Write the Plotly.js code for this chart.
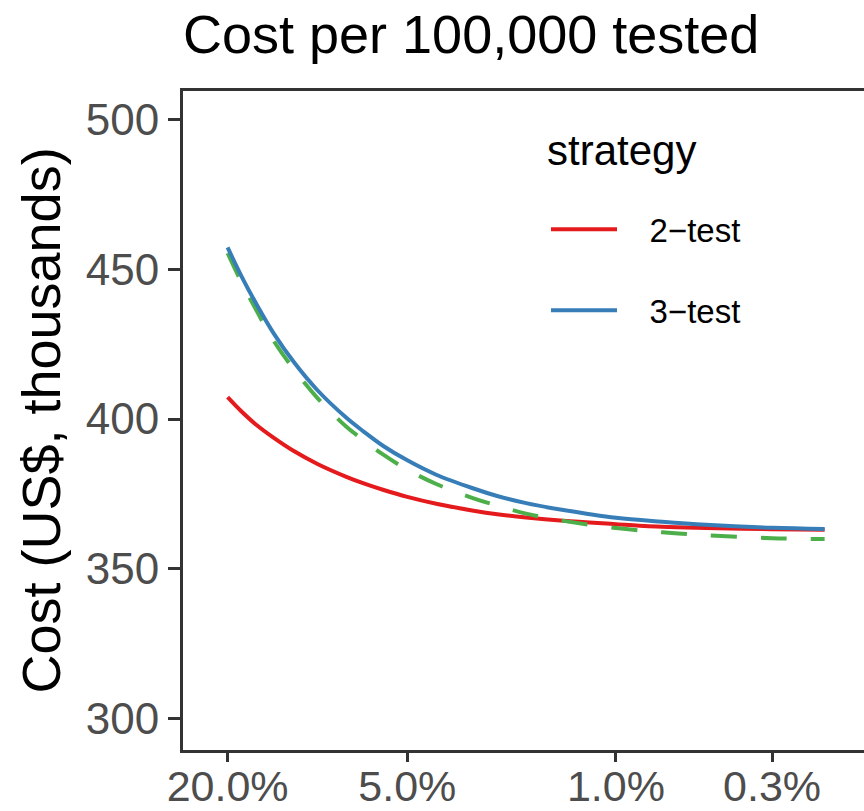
<!DOCTYPE html>
<html>
<head>
<meta charset="utf-8">
<script src="https://cdn.plot.ly/plotly-3.0.1.min.js"></script>
<style>
  html, body { margin: 0; padding: 0; overflow: hidden; background: #ffffff; }
  #chart { width: 880px; height: 811px; }
</style>
</head>
<body>
<div id="chart"></div>
<script>
// Prevalence of infection among those tested (fraction), high to low
const prevalence = [0.20, 0.18, 0.16, 0.14, 0.12, 0.10, 0.08, 0.07, 0.06, 0.05,
                    0.04, 0.03, 0.025, 0.02, 0.015, 0.01, 0.007, 0.005, 0.003, 0.002];

// Cost per 100,000 tested, US$ thousands
const cost2Test = [407.3, 402.6, 398.0, 393.7, 389.3, 385.0, 380.7, 378.5, 376.3, 374.0,
                   371.7, 369.4, 368.2, 367.1, 366.0, 364.9, 364.0, 363.6, 363.2, 363.0];
const cost3Test = [457.3, 447.8, 438.3, 428.5, 419.0, 409.6, 400.4, 395.8, 390.9, 386.2,
                   381.4, 376.8, 374.3, 371.9, 369.6, 367.0, 365.7, 364.7, 363.7, 363.3];
const cost3TestAlt = [455.4, 445.8, 436.2, 426.0, 416.6, 407.0, 397.4, 392.9, 388.0, 383.1,
                      378.3, 373.5, 371.1, 368.4, 366.0, 363.6, 362.2, 361.2, 360.2, 359.9];

const seriesNames = ['2\u2212test', '3\u2212test'];
const legendTitle = 'strategy';
const xTickVals = [0.20, 0.05, 0.01, 0.003];
const xTickText = ['20.0%', '5.0%', '1.0%', '0.3%'];
const yTickVals = [300, 350, 400, 450, 500];

const FONT = 'Liberation Sans, Arial, sans-serif';
const PAD = '\u00a0\u00a0\u00a0';

// plot panel geometry (px)
const PANEL_L = 183, PANEL_T = 90.5, PANEL_W = 687, PANEL_H = 660;
const px2paperX = px => (px - PANEL_L) / PANEL_W;
const px2paperY = py => (PANEL_T + PANEL_H - py) / PANEL_H;

const smooth = { shape: 'spline', smoothing: 1 };

const traces = [
  {
    x: prevalence, y: cost2Test, type: 'scatter', mode: 'lines',
    name: PAD + seriesNames[0], legendgroup: 'a',
    line: Object.assign({ color: '#E41A1C', width: 4 }, smooth)
  },
  {
    x: prevalence, y: cost3TestAlt, type: 'scatter', mode: 'lines',
    name: '3\u2212test alt', showlegend: false,
    line: Object.assign({ color: '#4DAF4A', width: 4, dash: '26px,24px' }, smooth)
  },
  {
    x: prevalence, y: cost3Test, type: 'scatter', mode: 'lines',
    name: PAD + seriesNames[1], legendgroup: 'b',
    line: Object.assign({ color: '#377EB8', width: 4 }, smooth)
  }
];

const layout = {
  width: 880, height: 811,
  margin: { l: PANEL_L, r: 880 - PANEL_L - PANEL_W, t: PANEL_T, b: 811 - PANEL_T - PANEL_H, pad: 0 },
  paper_bgcolor: '#ffffff', plot_bgcolor: '#ffffff',
  font: { family: FONT, color: '#000000' },
  title: {
    text: 'Cost per 100,000 tested',
    font: { family: FONT, size: 54, color: '#000000' },
    xref: 'paper', x: 0, xanchor: 'left',
    yref: 'container', y: 1 - 34 / 811, yanchor: 'middle'
  },
  xaxis: {
    type: 'log',
    range: [Math.log10(0.2) + 44.6 / 298.5, Math.log10(0.2) + 44.6 / 298.5 - PANEL_W / 298.5],
    tickvals: xTickVals, ticktext: xTickText,
    ticks: 'outside', ticklen: 9, tickwidth: 3, tickcolor: '#333333',
    ticklabelstandoff: -13,
    tickfont: { family: FONT, size: 43, color: '#4D4D4D' },
    showline: true, linecolor: '#333333', linewidth: 3, mirror: true,
    showgrid: false, zeroline: false
  },
  yaxis: {
    range: [289.5, 509.5],
    tickvals: yTickVals,
    ticks: 'outside', ticklen: 12, tickwidth: 3, tickcolor: '#333333',
    tickfont: { family: FONT, size: 44, color: '#4D4D4D' },
    showline: true, linecolor: '#333333', linewidth: 3, mirror: true,
    showgrid: false, zeroline: false,
    title: { text: 'Cost (US$, thousands)', font: { family: FONT, size: 54, color: '#000000' }, standoff: 8 }
  },
  showlegend: true,
  legend: {
    x: px2paperX(546), xanchor: 'left',
    y: px2paperY(201), yanchor: 'top',
    bgcolor: 'rgba(255,255,255,0)', borderwidth: 0,
    itemwidth: 66, tracegroupgap: 35,
    font: { family: FONT, size: 33, color: '#000000' }
  },
  annotations: [{
    text: legendTitle, xref: 'paper', yref: 'paper',
    x: px2paperX(545), xanchor: 'left',
    y: px2paperY(150), yanchor: 'middle',
    showarrow: false,
    font: { family: FONT, size: 42, color: '#000000' }
  }]
};

Plotly.newPlot('chart', traces, layout, { displayModeBar: false, staticPlot: true });
</script>
</body>
</html>
